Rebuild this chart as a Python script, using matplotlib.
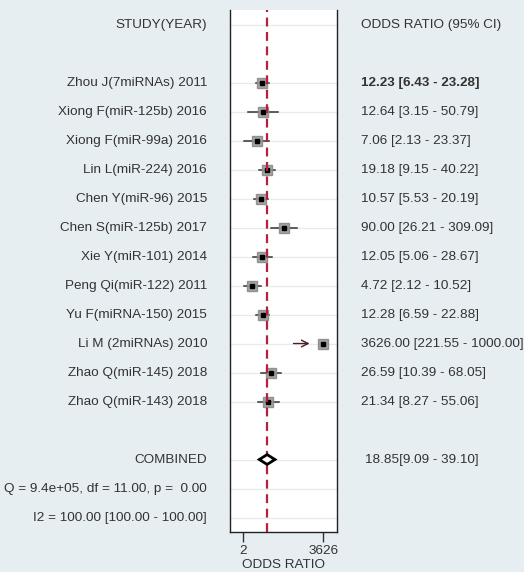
import matplotlib
matplotlib.use('Agg')
import matplotlib.pyplot as plt
from matplotlib.transforms import blended_transform_factory
from matplotlib.patches import Polygon

studies = ['Zhou J(7miRNAs) 2011', 'Xiong F(miR-125b) 2016', 'Xiong F(miR-99a) 2016',
           'Lin L(miR-224) 2016', 'Chen Y(miR-96) 2015', 'Chen S(miR-125b) 2017',
           'Xie Y(miR-101) 2014', 'Peng Qi(miR-122) 2011', 'Yu F(miRNA-150) 2015',
           'Li M (2miRNAs) 2010', 'Zhao Q(miR-145) 2018', 'Zhao Q(miR-143) 2018']
odds = [12.23, 12.64, 7.06, 19.18, 10.57, 90.00, 12.05, 4.72, 12.28, 3626.00, 26.59, 21.34]
lower = [6.43, 3.15, 2.13, 9.15, 5.53, 26.21, 5.06, 2.12, 6.59, 221.55, 10.39, 8.27]
upper = [23.28, 50.79, 23.37, 40.22, 20.19, 309.09, 28.67, 10.52, 22.88, 1000.00, 68.05, 55.06]

combined = [18.85, 9.09, 39.10]
het_q = 'Q = 9.4e+05, df = 11.00, p =  0.00'
het_i2 = 'I2 = 100.00 [100.00 - 100.00]'
xticks = [2, 3626]

bg = '#e7eef1'
plt.rcParams['font.family'] = ['Liberation Sans', 'DejaVu Sans']

fig = plt.figure(figsize=(5.24, 5.72), dpi=100, facecolor=bg)
ax = fig.add_axes([0.439, 0.0699, 0.205, 0.9126])
ax.set_facecolor('white')
ax.set_xscale('log')
ax.set_xlim(0.59, 13460)
ax.set_ylim(15.5, -2.5)

n = len(studies)
rows = list(range(n))
y_comb, y_q, y_i2, y_head = n + 1, n + 2, n + 3, -2

# faint row lines
for y in [y_head] + rows + [y_comb, y_q, y_i2]:
    ax.axhline(y, color='#e6ebee', lw=1.0, zorder=0)

# confidence intervals
for i in rows:
    if odds[i] > upper[i]:
        ax.annotate('', xy=(upper[i], i), xytext=(lower[i], i),
                    arrowprops=dict(arrowstyle='->', color='#4a2020', lw=1.0,
                                    mutation_scale=12, shrinkA=0, shrinkB=0), zorder=2)
    else:
        ax.plot([lower[i], upper[i]], [i, i], color='#333333', lw=1.1, zorder=2)

ax.plot(odds, rows, 's', ms=7, color='#9a9a9a', mec='#8a8a8a', alpha=0.9, zorder=3)
ax.plot(odds, rows, 's', ms=3.2, color='black', zorder=4)

# combined diamond
mid = combined[0]
diamond = Polygon([(combined[1], y_comb), (mid, y_comb - 0.17), (combined[2], y_comb),
                   (mid, y_comb + 0.17)], closed=True, facecolor='white',
                  edgecolor='black', lw=2.0, zorder=5)
ax.add_patch(diamond)

ax.axvline(combined[0], color='#b5203f', ls=(0, (4, 2.5)), lw=1.6, zorder=4)

ax.spines['top'].set_visible(False)
for s in ['left', 'right', 'bottom']:
    ax.spines[s].set_color('#222222')
    ax.spines[s].set_linewidth(1.0)

fs = 9.7
tc = '#333333'

ax.set_yticks([])
ax.set_xticks(xticks)
ax.set_xticklabels([str(t) for t in xticks])
ax.xaxis.set_minor_locator(matplotlib.ticker.NullLocator())
ax.tick_params(axis='x', direction='out', length=7, width=1, color='#333333',
               labelsize=fs, pad=2, labelcolor=tc)
ax.set_xlabel('ODDS RATIO', fontsize=fs, color=tc, labelpad=1.5)

trans = blended_transform_factory(fig.transFigure, ax.transData)
xl, xr = 207 / 524, 361 / 524

ax.text(xl, y_head, 'STUDY(YEAR)', transform=trans, ha='right', va='center', fontsize=fs, color=tc)
ax.text(xr, y_head, 'ODDS RATIO (95% CI)', transform=trans, ha='left', va='center', fontsize=fs, color=tc)

for i in rows:
    ax.text(xl, i, studies[i], transform=trans, ha='right', va='center', fontsize=fs, color=tc)
    lab = '%.2f [%.2f - %.2f]' % (odds[i], lower[i], upper[i])
    ax.text(xr, i, lab, transform=trans, ha='left', va='center', fontsize=fs, color=tc,
            fontweight='bold' if i == 0 else 'normal')

ax.text(xl, y_comb, 'COMBINED', transform=trans, ha='right', va='center', fontsize=fs, color=tc)
ax.text(xr + 4 / 524, y_comb, '%.2f[%.2f - %.2f]' % tuple(combined), transform=trans,
        ha='left', va='center', fontsize=fs, color=tc)
ax.text(xl, y_q, het_q, transform=trans, ha='right', va='center', fontsize=fs, color=tc)
ax.text(xl, y_i2, het_i2, transform=trans, ha='right', va='center', fontsize=fs, color=tc)

fig.savefig('out.png', dpi=100, facecolor=bg)
